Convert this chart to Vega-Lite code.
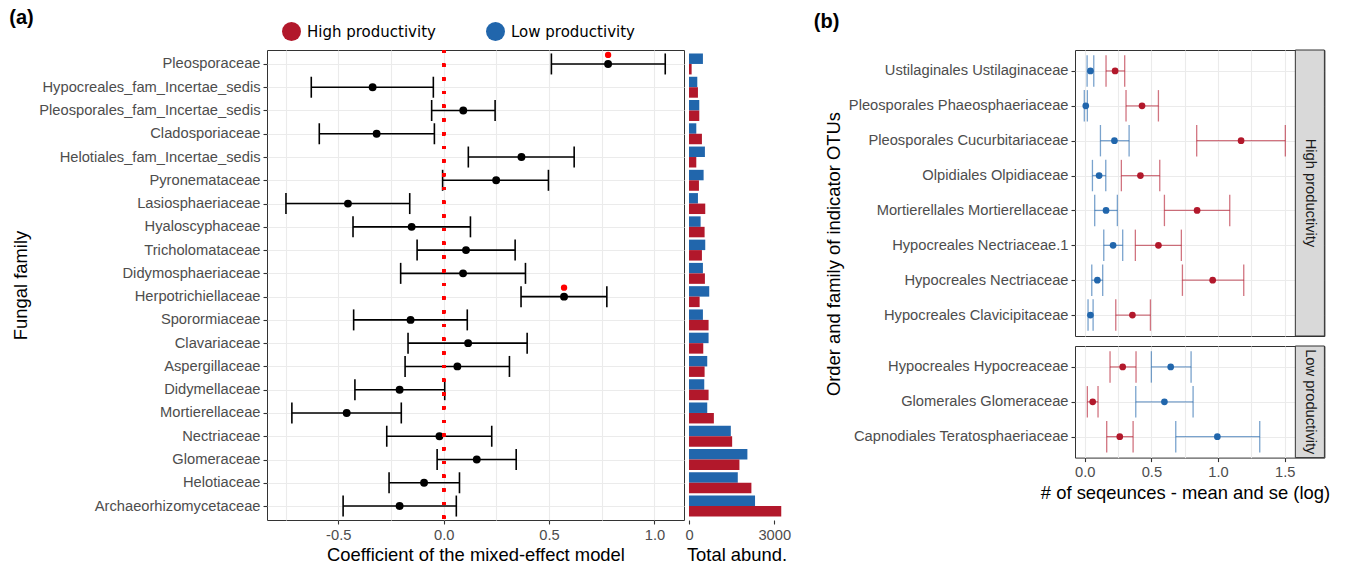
{
  "$schema": "https://vega.github.io/schema/vega-lite/v6.json",
  "background": "white",
  "padding": {"left": 9, "top": 8, "right": 0, "bottom": 0},
  "spacing": 22,
  "align": "none",
  "datasets": {
    "coef": [
      {"family": "Pleosporaceae", "mean": 0.780, "lo": 0.511, "hi": 1.051, "sig": true},
      {"family": "Hypocreales_fam_Incertae_sedis", "mean": -0.337, "lo": -0.628, "hi": -0.049, "sig": false},
      {"family": "Pleosporales_fam_Incertae_sedis", "mean": 0.093, "lo": -0.057, "hi": 0.244, "sig": false},
      {"family": "Cladosporiaceae", "mean": -0.318, "lo": -0.590, "hi": -0.044, "sig": false},
      {"family": "Helotiales_fam_Incertae_sedis", "mean": 0.369, "lo": 0.117, "hi": 0.619, "sig": false},
      {"family": "Pyronemataceae", "mean": 0.249, "lo": -0.005, "hi": 0.497, "sig": false},
      {"family": "Lasiosphaeriaceae", "mean": -0.454, "lo": -0.748, "hi": -0.161, "sig": false},
      {"family": "Hyaloscyphaceae", "mean": -0.152, "lo": -0.430, "hi": 0.127, "sig": false},
      {"family": "Tricholomataceae", "mean": 0.106, "lo": -0.126, "hi": 0.339, "sig": false},
      {"family": "Didymosphaeriaceae", "mean": 0.092, "lo": -0.204, "hi": 0.388, "sig": false},
      {"family": "Herpotrichiellaceae", "mean": 0.571, "lo": 0.367, "hi": 0.774, "sig": true},
      {"family": "Sporormiaceae", "mean": -0.157, "lo": -0.427, "hi": 0.112, "sig": false},
      {"family": "Clavariaceae", "mean": 0.116, "lo": -0.169, "hi": 0.396, "sig": false},
      {"family": "Aspergillaceae", "mean": 0.065, "lo": -0.183, "hi": 0.312, "sig": false},
      {"family": "Didymellaceae", "mean": -0.209, "lo": -0.421, "hi": 0.005, "sig": false},
      {"family": "Mortierellaceae", "mean": -0.460, "lo": -0.720, "hi": -0.201, "sig": false},
      {"family": "Nectriaceae", "mean": -0.020, "lo": -0.270, "hi": 0.228, "sig": false},
      {"family": "Glomeraceae", "mean": 0.157, "lo": -0.031, "hi": 0.344, "sig": false},
      {"family": "Helotiaceae", "mean": -0.093, "lo": -0.259, "hi": 0.075, "sig": false},
      {"family": "Archaeorhizomycetaceae", "mean": -0.209, "lo": -0.477, "hi": 0.060, "sig": false}
    ],
    "abund": [
      {"family": "Pleosporaceae", "group": "Low productivity", "total": 490},
      {"family": "Pleosporaceae", "group": "High productivity", "total": 93},
      {"family": "Hypocreales_fam_Incertae_sedis", "group": "Low productivity", "total": 292},
      {"family": "Hypocreales_fam_Incertae_sedis", "group": "High productivity", "total": 315},
      {"family": "Pleosporales_fam_Incertae_sedis", "group": "Low productivity", "total": 362},
      {"family": "Pleosporales_fam_Incertae_sedis", "group": "High productivity", "total": 362},
      {"family": "Cladosporiaceae", "group": "Low productivity", "total": 257},
      {"family": "Cladosporiaceae", "group": "High productivity", "total": 455},
      {"family": "Helotiales_fam_Incertae_sedis", "group": "Low productivity", "total": 560},
      {"family": "Helotiales_fam_Incertae_sedis", "group": "High productivity", "total": 257},
      {"family": "Pyronemataceae", "group": "Low productivity", "total": 514},
      {"family": "Pyronemataceae", "group": "High productivity", "total": 350},
      {"family": "Lasiosphaeriaceae", "group": "Low productivity", "total": 315},
      {"family": "Lasiosphaeriaceae", "group": "High productivity", "total": 572},
      {"family": "Hyaloscyphaceae", "group": "Low productivity", "total": 409},
      {"family": "Hyaloscyphaceae", "group": "High productivity", "total": 549},
      {"family": "Tricholomataceae", "group": "Low productivity", "total": 572},
      {"family": "Tricholomataceae", "group": "High productivity", "total": 455},
      {"family": "Didymosphaeriaceae", "group": "Low productivity", "total": 490},
      {"family": "Didymosphaeriaceae", "group": "High productivity", "total": 560},
      {"family": "Herpotrichiellaceae", "group": "Low productivity", "total": 712},
      {"family": "Herpotrichiellaceae", "group": "High productivity", "total": 374},
      {"family": "Sporormiaceae", "group": "Low productivity", "total": 490},
      {"family": "Sporormiaceae", "group": "High productivity", "total": 689},
      {"family": "Clavariaceae", "group": "Low productivity", "total": 689},
      {"family": "Clavariaceae", "group": "High productivity", "total": 502},
      {"family": "Aspergillaceae", "group": "Low productivity", "total": 642},
      {"family": "Aspergillaceae", "group": "High productivity", "total": 549},
      {"family": "Didymellaceae", "group": "Low productivity", "total": 537},
      {"family": "Didymellaceae", "group": "High productivity", "total": 689},
      {"family": "Mortierellaceae", "group": "Low productivity", "total": 642},
      {"family": "Mortierellaceae", "group": "High productivity", "total": 875},
      {"family": "Nectriaceae", "group": "Low productivity", "total": 1471},
      {"family": "Nectriaceae", "group": "High productivity", "total": 1518},
      {"family": "Glomeraceae", "group": "Low productivity", "total": 2054},
      {"family": "Glomeraceae", "group": "High productivity", "total": 1774},
      {"family": "Helotiaceae", "group": "Low productivity", "total": 1716},
      {"family": "Helotiaceae", "group": "High productivity", "total": 2195},
      {"family": "Archaeorhizomycetaceae", "group": "Low productivity", "total": 2323},
      {"family": "Archaeorhizomycetaceae", "group": "High productivity", "total": 3245}
    ],
    "ind": [
      {"otu": "Ustilaginales Ustilaginaceae", "facet": "High", "group": "Low productivity", "mean": 0.043, "lo": 0.018, "hi": 0.068},
      {"otu": "Ustilaginales Ustilaginaceae", "facet": "High", "group": "High productivity", "mean": 0.228, "lo": 0.160, "hi": 0.300},
      {"otu": "Pleosporales Phaeosphaeriaceae", "facet": "High", "group": "Low productivity", "mean": 0.008, "lo": -0.003, "hi": 0.020},
      {"otu": "Pleosporales Phaeosphaeriaceae", "facet": "High", "group": "High productivity", "mean": 0.430, "lo": 0.310, "hi": 0.553},
      {"otu": "Pleosporales Cucurbitariaceae", "facet": "High", "group": "Low productivity", "mean": 0.223, "lo": 0.118, "hi": 0.333},
      {"otu": "Pleosporales Cucurbitariaceae", "facet": "High", "group": "High productivity", "mean": 1.173, "lo": 0.840, "hi": 1.505},
      {"otu": "Olpidiales Olpidiaceae", "facet": "High", "group": "Low productivity", "mean": 0.108, "lo": 0.058, "hi": 0.158},
      {"otu": "Olpidiales Olpidiaceae", "facet": "High", "group": "High productivity", "mean": 0.418, "lo": 0.275, "hi": 0.563},
      {"otu": "Mortierellales Mortierellaceae", "facet": "High", "group": "Low productivity", "mean": 0.160, "lo": 0.075, "hi": 0.245},
      {"otu": "Mortierellales Mortierellaceae", "facet": "High", "group": "High productivity", "mean": 0.843, "lo": 0.598, "hi": 1.088},
      {"otu": "Hypocreales Nectriaceae.1", "facet": "High", "group": "Low productivity", "mean": 0.213, "lo": 0.143, "hi": 0.285},
      {"otu": "Hypocreales Nectriaceae.1", "facet": "High", "group": "High productivity", "mean": 0.553, "lo": 0.380, "hi": 0.725},
      {"otu": "Hypocreales Nectriaceae", "facet": "High", "group": "Low productivity", "mean": 0.095, "lo": 0.053, "hi": 0.135},
      {"otu": "Hypocreales Nectriaceae", "facet": "High", "group": "High productivity", "mean": 0.960, "lo": 0.733, "hi": 1.193},
      {"otu": "Hypocreales Clavicipitaceae", "facet": "High", "group": "Low productivity", "mean": 0.043, "lo": 0.025, "hi": 0.063},
      {"otu": "Hypocreales Clavicipitaceae", "facet": "High", "group": "High productivity", "mean": 0.358, "lo": 0.233, "hi": 0.493},
      {"otu": "Hypocreales Hypocreaceae", "facet": "Low", "group": "High productivity", "mean": 0.285, "lo": 0.190, "hi": 0.385},
      {"otu": "Hypocreales Hypocreaceae", "facet": "Low", "group": "Low productivity", "mean": 0.645, "lo": 0.500, "hi": 0.798},
      {"otu": "Glomerales Glomeraceae", "facet": "Low", "group": "High productivity", "mean": 0.060, "lo": 0.020, "hi": 0.100},
      {"otu": "Glomerales Glomeraceae", "facet": "Low", "group": "Low productivity", "mean": 0.598, "lo": 0.383, "hi": 0.813},
      {"otu": "Capnodiales Teratosphaeriaceae", "facet": "Low", "group": "High productivity", "mean": 0.263, "lo": 0.165, "hi": 0.363},
      {"otu": "Capnodiales Teratosphaeriaceae", "facet": "Low", "group": "Low productivity", "mean": 0.995, "lo": 0.683, "hi": 1.313}
    ]
  },
  "hconcat": [
    {
      "title": {"text": "(a)", "anchor": "start", "frame": "bounds", "fontSize": 20, "fontWeight": "bold", "font": "Liberation Sans", "color": "#000000", "offset": 20, "dx": -2},
      "spacing": -1,
      "hconcat": [
        {
          "width": 417,
          "height": 470,
          "data": {"name": "coef"},
          "layer": [
            {
              "mark": {"type": "rule", "color": "#000000", "strokeWidth": 1.6},
              "encoding": {
                "y": {"field": "family", "type": "nominal",
                  "scale": {"type": "point", "padding": 0.6, "domain": ["Pleosporaceae","Hypocreales_fam_Incertae_sedis","Pleosporales_fam_Incertae_sedis","Cladosporiaceae","Helotiales_fam_Incertae_sedis","Pyronemataceae","Lasiosphaeriaceae","Hyaloscyphaceae","Tricholomataceae","Didymosphaeriaceae","Herpotrichiellaceae","Sporormiaceae","Clavariaceae","Aspergillaceae","Didymellaceae","Mortierellaceae","Nectriaceae","Glomeraceae","Helotiaceae","Archaeorhizomycetaceae"]},
                  "axis": {"title": "Fungal family", "grid": true, "titlePadding": 8}},
                "x": {"field": "lo", "type": "quantitative",
                  "scale": {"domain": [-0.838, 1.14], "nice": false, "zero": false},
                  "axis": {"title": "Coefficient of the mixed-effect model", "grid": true,
                    "values": [-0.75, -0.5, -0.25, 0, 0.25, 0.5, 0.75, 1.0],
                    "labelExpr": "datum.value % 0.5 === 0 ? (datum.value < 0 ? '-' + format(-datum.value, '.1f') : format(datum.value, '.1f')) : ''",
                    "tickOpacity": {"condition": {"test": "datum.value % 0.5 !== 0", "value": 0}, "value": 1}}},
                "x2": {"field": "hi"}
              }
            },
            {
              "mark": {"type": "tick", "color": "#000000", "thickness": 1.6, "size": 21, "opacity": 1},
              "encoding": {"y": {"field": "family", "type": "nominal"}, "x": {"field": "lo", "type": "quantitative"}}
            },
            {
              "mark": {"type": "tick", "color": "#000000", "thickness": 1.6, "size": 21, "opacity": 1},
              "encoding": {"y": {"field": "family", "type": "nominal"}, "x": {"field": "hi", "type": "quantitative"}}
            },
            {
              "mark": {"type": "point", "filled": true, "color": "#000000", "size": 62, "opacity": 1},
              "encoding": {"y": {"field": "family", "type": "nominal"}, "x": {"field": "mean", "type": "quantitative"}}
            },
            {
              "transform": [{"filter": "datum.sig"}],
              "mark": {"type": "point", "filled": true, "color": "#FF0000", "size": 40, "opacity": 1, "yOffset": -9},
              "encoding": {"y": {"field": "family", "type": "nominal"}, "x": {"field": "mean", "type": "quantitative"}}
            },
            {
              "mark": {"type": "rule", "color": "#FF0000", "strokeWidth": 3, "strokeDash": [3, 10.7]},
              "encoding": {"x": {"datum": 0}}
            }
          ]
        },
        {
          "width": 99,
          "height": 470,
          "view": {"stroke": null},
          "data": {"name": "abund"},
          "mark": {"type": "bar"},
          "encoding": {
            "y": {"field": "family", "type": "nominal",
              "scale": {"type": "band", "paddingInner": 0.1, "paddingOuter": 0.15, "domain": ["Pleosporaceae","Hypocreales_fam_Incertae_sedis","Pleosporales_fam_Incertae_sedis","Cladosporiaceae","Helotiales_fam_Incertae_sedis","Pyronemataceae","Lasiosphaeriaceae","Hyaloscyphaceae","Tricholomataceae","Didymosphaeriaceae","Herpotrichiellaceae","Sporormiaceae","Clavariaceae","Aspergillaceae","Didymellaceae","Mortierellaceae","Nectriaceae","Glomeraceae","Helotiaceae","Archaeorhizomycetaceae"]},
              "axis": null},
            "yOffset": {"field": "group", "type": "nominal", "scale": {"domain": ["Low productivity", "High productivity"], "paddingInner": 0, "paddingOuter": 0}},
            "x": {"field": "total", "type": "quantitative",
              "scale": {"domain": [-70, 3412], "nice": false, "zero": false},
              "axis": {"title": "Total abund.", "values": [0, 3000], "format": "d", "grid": false}},
            "color": {"field": "group", "type": "nominal",
              "scale": {"domain": ["High productivity", "Low productivity"], "range": ["#B2182B", "#2166AC"]},
              "legend": {"orient": "none", "legendX": 15, "legendY": -28, "direction": "horizontal", "title": null, "symbolType": "circle", "symbolSize": 360, "symbolStrokeWidth": 0, "symbolOpacity": 1, "labelFont": "DejaVu Sans", "labelFontSize": 15, "labelColor": "#000000", "labelOffset": 6, "columnPadding": 50,
                "encode": {"symbols": {"update": {"opacity": {"value": 1}, "fillOpacity": {"value": 1}}}}}}
          }
        }
      ]
    },
    {
      "title": {"text": "(b)", "anchor": "start", "frame": "bounds", "fontSize": 20, "fontWeight": "bold", "font": "Liberation Sans", "color": "#000000", "offset": 17, "dx": -10},
      "bounds": "flush",
      "spacing": 10,
      "vconcat": [
        {
          "width": 249.4,
          "height": 286,
          "layer": [
            {
              "data": {"name": "ind"},
              "transform": [{"filter": "datum.facet === 'High'"}],
              "layer": [
                {
                  "mark": {"type": "rule", "strokeWidth": 1.3, "opacity": 0.6},
                  "encoding": {
                    "y": {"field": "otu", "type": "nominal",
                      "scale": {"type": "point", "padding": 0.6, "domain": ["Ustilaginales Ustilaginaceae","Pleosporales Phaeosphaeriaceae","Pleosporales Cucurbitariaceae","Olpidiales Olpidiaceae","Mortierellales Mortierellaceae","Hypocreales Nectriaceae.1","Hypocreales Nectriaceae","Hypocreales Clavicipitaceae"]},
                      "axis": {"title": "Order and family of indicator OTUs", "grid": true, "titleY": 203.5, "titlePadding": 5}},
                    "x": {"field": "lo", "type": "quantitative",
                      "scale": {"domain": [-0.0728, 1.798], "nice": false, "zero": false},
                      "axis": {"title": null, "labels": false, "ticks": false, "grid": true, "values": [0, 0.25, 0.5, 0.75, 1.0, 1.25, 1.5]}},
                    "x2": {"field": "hi"},
                    "color": {"field": "group", "type": "nominal"}
                  }
                },
                {
                  "mark": {"type": "tick", "thickness": 1.3, "size": 31.4, "opacity": 0.6},
                  "encoding": {"y": {"field": "otu", "type": "nominal"}, "x": {"field": "lo", "type": "quantitative"}, "color": {"field": "group", "type": "nominal"}}
                },
                {
                  "mark": {"type": "tick", "thickness": 1.3, "size": 31.4, "opacity": 0.6},
                  "encoding": {"y": {"field": "otu", "type": "nominal"}, "x": {"field": "hi", "type": "quantitative"}, "color": {"field": "group", "type": "nominal"}}
                },
                {
                  "mark": {"type": "point", "filled": true, "size": 45, "opacity": 1},
                  "encoding": {"y": {"field": "otu", "type": "nominal"}, "x": {"field": "mean", "type": "quantitative"}, "color": {"field": "group", "type": "nominal"}}
                }
              ]
            },
            {
              "data": {"values": [{"label": "High productivity"}]},
              "layer": [
                {
                  "mark": {"type": "rect", "fill": "#D9D9D9", "stroke": "#333333", "strokeWidth": 1},
                  "encoding": {"x": {"datum": 1.58}, "x2": {"datum": 1.798}}
                },
                {
                  "mark": {"type": "text", "angle": 90, "font": "Liberation Sans", "fontSize": 14.7, "color": "#1A1A1A", "align": "center", "baseline": "middle"},
                  "encoding": {"x": {"datum": 1.689}, "text": {"field": "label", "type": "nominal"}}
                }
              ]
            }
          ]
        },
        {
          "width": 249.4,
          "height": 111.6,
          "layer": [
            {
              "data": {"name": "ind"},
              "transform": [{"filter": "datum.facet === 'Low'"}],
              "layer": [
                {
                  "mark": {"type": "rule", "strokeWidth": 1.3, "opacity": 0.6},
                  "encoding": {
                    "y": {"field": "otu", "type": "nominal",
                      "scale": {"type": "point", "padding": 0.6, "domain": ["Hypocreales Hypocreaceae","Glomerales Glomeraceae","Capnodiales Teratosphaeriaceae"]},
                      "axis": {"title": null, "grid": true}},
                    "x": {"field": "lo", "type": "quantitative",
                      "scale": {"domain": [-0.0728, 1.798], "nice": false, "zero": false},
                      "axis": {"title": "# of seqeunces - mean and se (log)", "grid": true, "titleX": 110,
                        "values": [0, 0.25, 0.5, 0.75, 1.0, 1.25, 1.5],
                        "labelExpr": "datum.value % 0.5 === 0 ? format(datum.value, '.1f') : ''",
                        "tickOpacity": {"condition": {"test": "datum.value % 0.5 !== 0", "value": 0}, "value": 1}}},
                    "x2": {"field": "hi"},
                    "color": {"field": "group", "type": "nominal"}
                  }
                },
                {
                  "mark": {"type": "tick", "thickness": 1.3, "size": 31.4, "opacity": 0.6},
                  "encoding": {"y": {"field": "otu", "type": "nominal"}, "x": {"field": "lo", "type": "quantitative"}, "color": {"field": "group", "type": "nominal"}}
                },
                {
                  "mark": {"type": "tick", "thickness": 1.3, "size": 31.4, "opacity": 0.6},
                  "encoding": {"y": {"field": "otu", "type": "nominal"}, "x": {"field": "hi", "type": "quantitative"}, "color": {"field": "group", "type": "nominal"}}
                },
                {
                  "mark": {"type": "point", "filled": true, "size": 45, "opacity": 1},
                  "encoding": {"y": {"field": "otu", "type": "nominal"}, "x": {"field": "mean", "type": "quantitative"}, "color": {"field": "group", "type": "nominal"}}
                }
              ]
            },
            {
              "data": {"values": [{"label": "Low productivity"}]},
              "layer": [
                {
                  "mark": {"type": "rect", "fill": "#D9D9D9", "stroke": "#333333", "strokeWidth": 1},
                  "encoding": {"x": {"datum": 1.58}, "x2": {"datum": 1.798}}
                },
                {
                  "mark": {"type": "text", "angle": 90, "font": "Liberation Sans", "fontSize": 14.7, "color": "#1A1A1A", "align": "center", "baseline": "middle"},
                  "encoding": {"x": {"datum": 1.689}, "text": {"field": "label", "type": "nominal"}}
                }
              ]
            }
          ]
        }
      ]
    }
  ],
  "config": {
    "font": "Liberation Sans",
    "view": {"stroke": "#333333", "strokeWidth": 1},
    "axis": {
      "labelFont": "Liberation Sans", "labelFontSize": 14.7, "labelColor": "#4D4D4D", "labelLimit": 400, "maxExtent": 400,
      "titleFont": "Liberation Sans", "titleFontSize": 18.4, "titleFontWeight": "normal", "titleColor": "#000000",
      "tickColor": "#333333", "tickSize": 4, "tickWidth": 1.1, "domain": false,
      "gridColor": "#EBEBEB", "gridWidth": 1.1, "labelFlush": false, "labelPadding": 3, "titlePadding": 4, "labelOverlap": false
    }
  }
}
